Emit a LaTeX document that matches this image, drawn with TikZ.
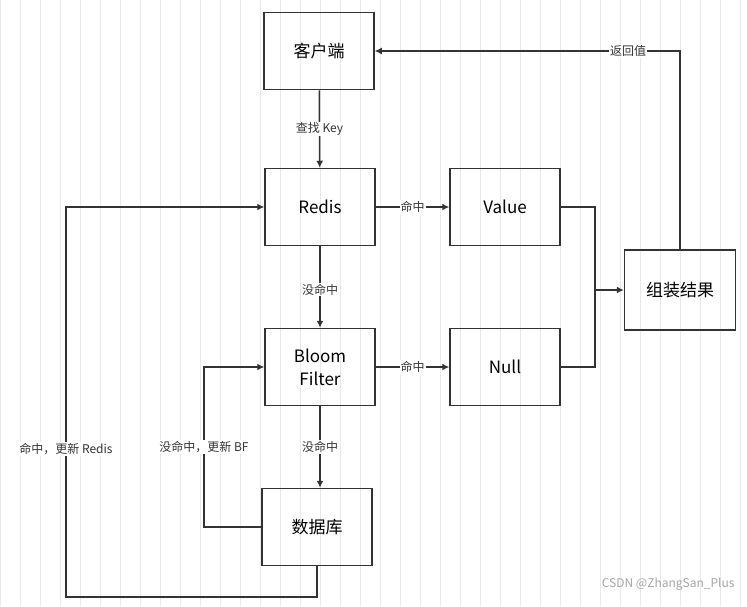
\documentclass[tikz,border=0pt]{standalone}
\usepackage{fontspec}
\setmainfont{Noto Sans CJK SC}
\usetikzlibrary{positioning,arrows.meta}
\definecolor{ink}{HTML}{333333}
\tikzset{
  box/.style={draw=ink,line width=1.5pt,minimum width=110pt,minimum height=77pt,align=center,font=\fontsize{17}{23}\selectfont},
  link/.style={draw=ink,line width=1.5pt,-{Latex[length=7pt,width=7pt]}},
  tag/.style={fill=white,inner sep=1pt,font=\fontsize{12}{14}\selectfont,text=ink}
}
\begin{document}
\begin{tikzpicture}[x=1pt,y=-1pt]
      \useasboundingbox (0,0) rectangle (747,606);
      \fill[white] (0,0) rectangle (747,606);
      \draw[gray!18,step=20] (0,0) grid (747,606);
      \node[box] (client) at (319,51) {客户端};
      \node[box] (redis) at (320,207) {Redis};
      \node[box] (value) at (505,207) {Value};
      \node[box] (bloom) at (320,367) {Bloom\\Filter};
      \node[box] (null) at (505,367) {Null};
      \node[box,minimum width=111pt,minimum height=80pt] (result) at (680,290) {组装结果};
      \node[box] (db) at (317,527) {数据库};

      \draw[link] (client) -- node[tag] {查找 Key} (redis);
      \draw[link] (redis) -- node[tag] {命中} (value);
      \draw[link] (redis) -- node[tag,pos=0.53] {没命中} (bloom);
      \draw[link] (bloom) -- node[tag] {命中} (null);
      \draw[link] (bloom.south) -- node[tag,pos=0.5] {没命中} (bloom.south |- db.north);
      \draw[link] (value.east) -- (595,207) -- (595,290) -- (result.west);
      \draw[draw=ink,line width=1.5pt] (null.east) -- (595,367) -- (595,290);
      \draw[link] (result.north) -- (680,51) -- node[tag,pos=0.17] {返回值} (client.east);
      \draw[link] (db.west) -- (204,527) -- node[tag,pos=0.5] {没命中，更新 BF} (204,367) -- (bloom.west);
      \draw[link] (db.south) -- (317,597) -- (66,597) -- node[tag,pos=0.38] {命中，更新 Redis} (66,207) -- (redis.west);
      \node[text=gray!70,font=\fontsize{12}{14}\selectfont,anchor=east] (mark) at (738,584) {CSDN @ZhangSan\_Plus};
\end{tikzpicture}
\end{document}
